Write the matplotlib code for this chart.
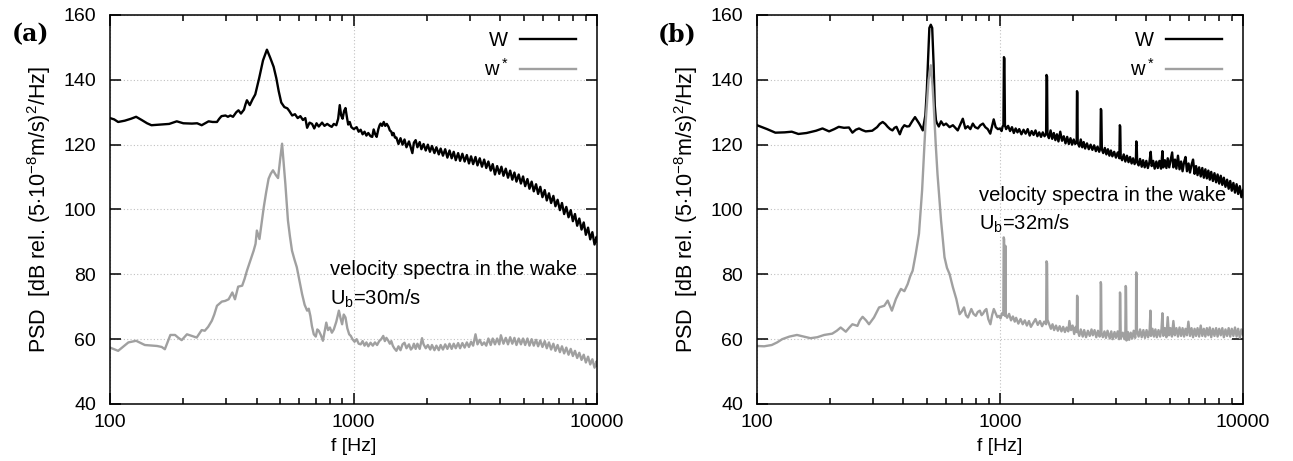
import numpy as np
import matplotlib
matplotlib.use("Agg")
import matplotlib.pyplot as plt
from matplotlib.ticker import NullFormatter, FixedLocator

plt.rcParams['font.family'] = ['Liberation Sans', 'DejaVu Sans']
plt.rcParams['mathtext.fontset'] = 'custom'
plt.rcParams['mathtext.rm'] = 'Liberation Sans'
plt.rcParams['mathtext.it'] = 'Liberation Sans'

# ---------------- data: (frequency [Hz], PSD [dB]) ----------------
# panel (a), U_b = 30 m/s, W
A_W = [
    (100,128.2),(104,127.8),(108,127.0),(115,127.4),(122,128.0),(128,128.6),(135,127.6),(142,126.6),
    (148,126.0),(160,126.2),(175,126.4),(188,127.2),(200,126.6),(217,126.5),(228,126.6),(238,126.0),
    (246,126.6),(254,127.2),(264,127.0),(275,127.0),(281,128.0),(287,128.8),(298,129.0),(305,128.6),
    (312,129.0),(320,128.6),(330,130.0),(337,130.6),(345,129.6),(355,130.8),(360,132.4),(365,133.7),
    (375,132.2),(385,134.0),(395,135.5),(410,140.6),(425,146.0),(441,149.3),(455,146.8),(470,144.0),
    (482,140.5),(493,136.5),(505,133.0),(520,131.6),(535,131.2),(545,130.4),(560,129.0),(575,129.4),
    (590,128.2),(605,128.8),(620,127.6),(634,128.2),(645,125.2),(660,126.8),(676,126.4),(690,125.0),
    (705,126.6),(720,125.6),(743,126.8),(760,125.8),(780,126.4),(800,125.8),(814,125.5),(830,126.4),
    (850,126.0),(865,128.0),(878,132.2),(890,129.0),(902,128.0),(915,130.4),(927,131.3),(940,128.4),
    (951,126.2),(965,127.0),(980,125.4),(1003,124.8),(1030,125.4),(1050,124.0),(1070,124.6),(1090,123.2),
    (1110,124.0),(1130,122.8),(1150,123.6),(1175,122.6),(1194,122.4),(1210,124.7),(1228,123.2),(1245,122.4),
    (1265,124.8),(1280,126.0),(1292,126.5),(1310,125.8),(1331,127.0),(1350,125.8),(1370,126.4),(1393,125.5),
    (1410,124.4),(1430,124.0),(1443,122.9),(1460,123.6),(1480,122.2),
    (1500,122.2),(1530,120.2),(1560,122.0),(1590,120.0),(1620,121.6),(1650,119.2),(1690,121.0),(1720,119.0),
    (1745,117.4),(1770,120.6),(1800,121.4),(1830,119.2),(1870,120.8),(1900,118.6),(1940,120.2),(1980,118.2),
    (2020,120.0),(2060,117.8),(2100,119.6),(2150,117.4),(2190,119.2),(2240,117.0),(2280,118.8),(2330,116.6),
    (2380,118.6),(2430,116.0),(2480,118.2),(2530,115.8),(2580,117.8),(2630,115.2),(2690,117.4),(2740,115.0),
    (2800,117.2),(2860,114.8),(2920,116.8),(2980,114.2),(3040,116.4),(3100,114.0),(3170,116.2),(3230,113.6),
    (3300,115.8),(3370,113.2),(3440,115.4),(3510,112.8),(3580,114.8),(3660,112.0),(3730,114.0),(3810,110.8),
    (3890,113.4),(3970,111.0),(4050,113.2),(4130,110.4),(4220,112.6),(4310,109.8),(4400,112.0),(4490,109.2),
    (4580,111.4),(4670,108.6),(4770,110.8),(4870,108.0),(4970,110.2),(5070,107.2),(5180,109.4),(5280,106.4),
    (5390,108.6),(5500,105.6),(5620,107.8),(5730,104.8),(5850,107.0),(5970,103.8),(6100,106.0),(6220,102.8),
    (6350,105.0),(6480,102.0),(6620,104.2),(6750,101.0),(6890,103.0),(7040,99.8),(7180,102.0),(7330,98.6),
    (7480,100.8),(7640,97.6),(7800,99.8),(7960,96.4),(8120,98.6),(8290,95.0),(8460,97.2),(8640,93.8),
    (8820,96.0),(9000,92.2),(9190,94.4),(9380,90.8),(9570,93.0),(9770,89.2),(9970,91.6),(10000,90.2),
]

# panel (a), w*
A_WS = [
    (100,57.4),(104,56.9),(108,56.4),(113,57.6),(119,59.0),(128,59.5),(139,58.2),(150,58.0),(156,57.9),
    (163,57.6),(168,56.9),(177,61.3),(185,61.3),(191,60.4),(197,59.7),(207,61.5),(217,61.0),(227,60.5),
    (238,62.8),(245,62.6),(253,63.8),(262,65.7),(268,67.6),(275,70.3),(288,71.6),(297,71.8),(307,72.3),
    (318,74.4),(326,72.3),(336,76.2),(349,76.5),(357,78.6),(365,81.1),(377,84.2),(389,87.3),(396,89.4),
    (401,93.5),(411,90.9),(420,96.2),(428,100.7),(438,105.4),(448,109.5),(457,111.0),(467,112.1),(480,110.6),
    (490,109.7),(500,115.6),(509,120.3),(517,114.0),(525,107.9),(538,96.6),(548,91.8),(559,87.3),(572,84.6),
    (585,82.2),(600,78.0),(615,73.9),(630,70.6),(645,68.8),(655,69.4),(665,67.2),(675,64.0),(687,61.5),
    (700,60.8),(710,63.0),(720,62.6),(735,61.2),(749,59.5),(762,62.6),(773,65.1),(786,62.8),(800,63.6),
    (815,62.0),(830,63.0),(850,65.4),(871,68.8),(885,66.4),(898,64.6),(912,67.6),(927,66.7),(943,63.4),
    (960,61.5),(975,61.0),(990,60.0),(1010,59.2),(1030,60.0),(1050,58.6),(1070,58.4),(1090,59.4),(1110,58.0),
    (1130,59.0),(1150,57.8),(1175,58.9),(1200,58.0),(1225,59.0),(1250,58.2),(1275,59.4),(1300,60.0),
    (1325,61.0),(1345,59.4),(1365,60.4),(1390,59.5),(1410,58.6),(1430,59.4),(1450,58.0),(1470,57.2),
    (1500,56.4),(1530,57.8),(1560,56.6),(1590,58.4),(1620,58.9),(1650,57.2),(1690,58.4),(1720,56.8),
    (1745,57.3),(1770,58.6),(1800,57.0),(1830,58.6),(1870,57.0),(1912,60.3),(1940,58.4),(1980,57.2),
    (2020,58.2),(2067,56.8),(2100,58.2),(2150,56.6),(2190,58.0),(2240,56.6),(2280,58.2),(2330,56.8),
    (2380,58.4),(2430,57.0),(2480,58.6),(2530,57.0),(2580,58.6),(2630,57.2),(2690,58.8),(2740,57.2),
    (2800,58.8),(2860,57.4),(2920,59.0),(2980,57.6),(3040,59.2),(3100,58.0),(3170,61.5),(3230,58.4),
    (3300,59.8),(3370,58.2),(3440,59.0),(3510,58.0),(3580,60.2),(3660,58.2),(3730,60.2),(3810,58.4),
    (3890,60.2),(3970,58.4),(4030,61.2),(4130,58.6),(4220,60.4),(4310,58.4),(4400,60.6),(4490,58.6),
    (4580,60.4),(4670,58.2),(4770,60.2),(4870,58.4),(4970,60.2),(5070,58.2),(5180,60.2),(5280,58.0),
    (5390,60.0),(5500,58.0),(5620,59.8),(5730,57.8),(5850,59.6),(5970,57.6),(6100,59.4),(6220,57.2),
    (6350,59.0),(6480,56.8),(6620,58.6),(6750,56.4),(6890,58.2),(7040,56.0),(7180,57.8),(7330,55.6),
    (7480,57.4),(7640,55.2),(7800,57.0),(7960,54.8),(8120,56.4),(8290,54.2),(8460,55.8),(8640,53.6),
    (8820,55.2),(9000,52.8),(9190,54.6),(9380,52.2),(9570,53.8),(9770,51.2),(9970,53.2),(10000,51.8),
]

# panel (b), U_b = 32 m/s, W
B_W = [
    (100,126.0),(105,125.4),(110,124.8),(119,123.7),(130,123.8),(139,124.0),(148,123.3),(160,123.6),
    (175,124.3),(186,125.0),(198,124.1),(208,124.8),(217,125.5),(228,125.2),(239,125.3),(247,123.7),
    (255,124.6),(263,125.0),(271,124.5),(280,124.1),(298,124.3),(312,125.4),(320,126.4),(329,127.0),
    (337,126.4),(345,125.5),(353,124.8),(361,124.4),(368,125.2),(375,125.5),(387,123.2),(395,125.0),
    (404,126.0),(414,125.6),(423,125.7),(435,127.2),(447,128.5),(457,127.4),(465,126.5),(473,125.5),
    (481,124.4),(493,129.0),(500,137.0),(506,147.0),(512,156.0),(519,157.0),(526,156.0),(533,145.0),
    (539,132.0),(545,127.6),(549,126.8),(560,125.6),(572,127.2),(586,126.0),(600,126.5),(620,125.4),
    (640,126.0),(655,125.2),(670,124.4),(686,126.2),(703,128.0),(720,125.0),(737,125.7),(755,124.8),
    (773,126.5),(790,125.4),(811,125.0),(830,126.0),(851,126.5),(870,125.4),(890,124.8),(912,123.4),
    (927,125.6),(942,127.8),(960,125.4),(980,124.8),
    (1000,125.0),(1015,124.2),(1025,125.6),(1033,126.0),(1038,147.0),(1043,146.5),(1048,126.0),(1060,124.8),
    (1080,125.8),(1100,124.2),(1120,125.4),(1140,123.6),(1160,125.0),(1180,123.8),(1200,124.8),(1225,123.2),
    (1250,124.6),(1275,123.4),(1300,124.8),(1325,122.8),(1350,124.2),(1375,123.0),(1400,124.4),(1425,122.6),
    (1450,123.8),(1475,122.4),(1500,123.8),(1525,122.6),(1548,123.4),(1554,141.5),(1562,141.0),(1568,123.2),
    (1590,122.0),(1615,124.4),(1640,121.8),(1665,123.6),(1690,121.4),(1715,123.2),(1740,121.0),(1770,124.0),
    (1800,121.2),(1830,122.6),(1860,120.4),(1890,122.4),(1920,120.2),(1950,122.0),(1980,120.0),(2010,121.6),
    (2040,120.2),(2068,121.0),(2074,136.5),(2082,136.0),(2088,120.6),(2120,119.4),(2150,121.6),(2180,119.2),
    (2210,120.8),(2240,118.8),(2280,120.4),(2320,118.6),(2360,120.0),(2400,118.4),(2440,119.8),(2480,118.0),
    (2520,119.4),(2560,117.8),(2590,119.0),(2600,131.0),(2612,130.6),(2625,118.6),(2660,117.4),(2700,119.0),
    (2740,117.0),(2780,118.6),(2820,116.6),(2860,118.2),(2900,116.4),(2950,117.8),(3000,116.0),(3050,117.6),
    (3100,115.8),(3112,126.0),(3125,125.6),(3138,116.4),(3180,115.2),(3230,117.0),(3280,114.8),(3330,116.6),
    (3380,114.6),(3430,116.2),(3480,114.2),(3530,115.8),(3580,114.0),(3625,115.4),(3638,121.0),(3652,120.6),
    (3668,114.6),(3720,113.6),(3770,115.6),(3830,113.2),(3880,115.2),(3940,113.0),(4000,115.0),(4060,112.8),
    (4120,114.6),(4170,117.8),(4210,113.4),(4270,115.0),(4330,112.6),(4400,114.8),(4460,112.8),(4530,115.0),
    (4600,112.6),(4660,118.0),(4700,113.0),(4770,115.2),(4840,112.8),(4900,115.8),(4970,113.0),(5040,115.4),
    (5110,117.6),(5170,113.0),(5250,115.4),(5320,112.6),(5400,116.6),(5480,112.4),(5560,114.8),(5640,111.8),
    (5720,114.6),(5800,116.2),(5880,111.8),(5970,114.2),(6050,111.4),(6140,113.8),(6230,115.4),(6320,111.0),
    (6410,113.4),(6500,110.6),(6600,113.0),(6700,110.2),(6800,112.8),(6900,109.8),(7000,112.4),(7100,109.6),
    (7200,112.0),(7300,109.2),(7400,111.6),(7520,108.8),(7630,111.2),(7750,108.4),(7860,110.8),(7980,108.0),
    (8100,110.4),(8220,107.6),(8340,109.8),(8470,107.0),(8600,109.2),(8730,106.4),(8860,108.8),(8990,105.8),
    (9130,108.2),(9270,105.2),(9410,107.8),(9550,104.8),(9700,107.2),(9850,103.8),(10000,106.0),
]

# panel (b), w*
B_WS = [
    (100,57.9),(107,57.8),(115,58.2),(121,59.0),(127,60.0),(136,60.8),(146,61.3),(156,60.8),(166,60.3),
    (177,60.6),(189,61.3),(204,61.7),(213,62.6),(221,63.6),(232,62.3),(240,63.6),(247,64.6),(259,64.1),
    (265,65.8),(272,66.9),(281,65.8),(289,64.6),(303,66.7),(318,69.8),(334,70.3),(345,71.9),(359,68.8),
    (373,72.4),(383,74.2),(391,75.5),(404,74.8),(417,77.0),(427,79.4),(437,81.1),(450,86.3),(464,92.5),
    (478,105.9),(493,125.5),(508,139.9),(519,144.5),(528,138.0),(534,131.6),(544,120.0),(553,111.0),
    (572,96.6),(591,85.3),(605,82.0),(620,80.1),(640,76.0),(661,72.4),(682,67.7),(697,68.6),(711,69.8),
    (724,67.4),(738,66.7),(750,68.0),(762,69.3),(778,67.8),(795,67.2),(810,68.4),(826,68.8),(840,67.4),
    (852,67.9),(865,68.8),(879,69.3),(895,66.2),(913,64.6),(928,67.4),(943,69.3),(960,68.0),(975,66.8),
    (991,67.2),(1005,66.4),(1020,68.0),(1032,67.6),(1036,91.4),(1040,90.8),(1044,68.0),(1048,67.2),
    (1052,88.8),(1056,67.4),(1070,66.6),(1090,67.8),(1110,65.8),(1130,67.0),(1150,65.4),(1165,66.6),
    (1190,64.8),(1215,66.2),(1240,64.6),(1265,65.8),(1290,64.2),(1316,65.6),(1340,63.8),(1370,65.0),
    (1400,66.2),(1430,64.4),(1460,65.6),(1490,64.0),(1520,65.4),(1548,64.6),(1554,84.0),(1562,83.4),
    (1568,66.0),(1590,64.8),(1620,63.2),(1645,64.6),(1670,62.8),(1700,64.2),(1730,62.6),(1760,64.0),
    (1790,62.4),(1820,63.8),(1850,62.2),(1880,63.6),(1910,62.4),(1930,65.6),(1960,62.8),(1990,64.2),
    (2020,61.6),(2050,63.8),(2070,62.2),(2076,73.4),(2084,73.0),(2090,62.6),(2120,61.0),(2150,63.0),
    (2190,60.8),(2220,62.8),(2260,60.6),(2300,62.6),(2340,61.0),(2380,63.0),(2410,61.2),(2450,62.8),
    (2490,60.6),(2530,62.6),(2570,60.8),(2592,62.4),(2598,77.6),(2606,77.0),(2615,62.0),(2650,60.6),
    (2690,62.4),(2730,60.4),(2770,62.6),(2830,60.2),(2870,62.4),(2910,60.0),(2960,62.2),(3000,60.4),
    (3050,62.4),(3090,60.0),(3110,61.8),(3116,74.4),(3124,74.0),(3140,60.2),(3200,62.0),(3250,60.0),
    (3280,62.4),(3290,76.4),(3300,76.0),(3315,59.6),(3360,62.2),(3400,59.8),(3450,62.0),(3500,60.2),
    (3550,62.6),(3600,60.4),(3625,62.8),(3634,80.6),(3645,80.2),(3660,62.6),(3720,60.8),(3770,63.0),
    (3830,60.6),(3890,62.8),(3950,60.4),(4010,62.8),(4070,60.6),(4130,63.0),(4160,68.8),(4180,61.0),
    (4240,63.2),(4300,60.8),(4360,63.0),(4420,60.6),(4490,62.8),(4560,60.8),(4620,63.2),(4660,68.0),
    (4700,61.0),(4770,63.4),(4840,60.6),(4900,66.8),(4960,61.2),(5030,63.4),(5100,60.8),(5170,65.6),
    (5240,61.2),(5320,63.4),(5400,60.8),(5480,63.6),(5560,61.0),(5640,63.4),(5720,60.8),(5800,63.2),
    (5880,61.2),(5960,65.4),(6050,61.0),(6140,63.4),(6230,60.6),(6320,63.2),(6410,61.0),(6500,63.4),
    (6600,60.8),(6700,64.2),(6800,61.0),(6900,63.2),(7000,60.8),(7100,63.4),(7200,61.2),(7300,63.6),
    (7400,60.6),(7520,63.2),(7630,61.0),(7750,63.4),(7860,60.8),(7980,63.2),(8100,61.2),(8220,63.4),
    (8340,60.6),(8470,63.0),(8600,61.0),(8730,63.4),(8860,60.8),(8990,63.2),(9130,61.0),(9270,63.6),
    (9410,60.8),(9550,63.2),(9700,60.4),(9850,63.0),(10000,61.4),
]

SERIES_LABELS = ["W", "w$^*$"]
PANEL_TAGS = ["(a)", "(b)"]
NOTE_LINE1 = "velocity spectra in the wake"
NOTE_LINE2 = ["U$_\\mathrm{b}$=30m/s", "U$_\\mathrm{b}$=32m/s"]
Y_TICKS = [40, 60, 80, 100, 120, 140, 160]
X_TICKS = [100, 1000, 10000]
X_TICK_LABELS = ["100", "1000", "10000"]

# ---------------- figure ----------------
W_PX, H_PX = 1293, 461
fig = plt.figure(figsize=(W_PX / 100, H_PX / 100), dpi=100)

def px_axes(l, r, t, b):
    return fig.add_axes([l / W_PX, 1 - b / H_PX, (r - l) / W_PX, (b - t) / H_PX])

axes = [px_axes(110, 597, 15, 404), px_axes(757, 1243, 15, 404)]
panels = [(A_W, A_WS), (B_W, B_WS)]
note_x = [0.452, 0.457]
note_y = [(0.347, 0.270), (0.535, 0.462)]
tag_pos = [(31, 34), (677, 34)]
colors = ["#000000", "#a0a0a0"]

for i, ax in enumerate(axes):
    for data, col, lab in zip(panels[i], colors, SERIES_LABELS):
        f = np.array([p[0] for p in data], dtype=float)
        v = np.array([p[1] for p in data], dtype=float)
        ax.plot(f, v, color=col, lw=1.7, label=lab)
    ax.set_xscale('log')
    ax.set_xlim(100, 10000)
    ax.set_ylim(40, 160)
    ax.set_yticks(Y_TICKS)
    ax.set_xticks(X_TICKS)
    ax.set_xticklabels(X_TICK_LABELS)
    ax.xaxis.set_minor_locator(FixedLocator([m * d for d in (100, 1000) for m in range(2, 10)]))
    ax.xaxis.set_minor_formatter(NullFormatter())
    ax.tick_params(which='both', direction='in', top=True, right=True, labelsize=14, width=1.1)
    ax.tick_params(axis='y', which='major', length=8, pad=10)
    ax.tick_params(axis='x', which='major', length=8, pad=7)
    ax.tick_params(which='minor', length=4)
    ax.grid(True, which='major', linestyle=(0, (1, 2)), color='#c0c0c0', lw=0.8)
    for s in ax.spines.values():
        s.set_linewidth(1.1)
    ax.set_xlabel("f [Hz]", fontsize=14, labelpad=5)
    ax.set_ylabel("PSD  [dB rel. (5$\\cdot$10$^{-8}$m/s)$^2$/Hz]", fontsize=15.5)
    ax.yaxis.set_label_coords(-0.117, 0.5)
    ax.legend(loc='upper right', frameon=False, markerfirst=False, fontsize=14.5,
              handlelength=2.8, handletextpad=0.6, labelspacing=0.4,
              bbox_to_anchor=(0.995, 1.005))
    ax.text(note_x[i], note_y[i][0], NOTE_LINE1, transform=ax.transAxes,
            fontsize=14.5, va='center', ha='left')
    ax.text(note_x[i], note_y[i][1], NOTE_LINE2[i], transform=ax.transAxes,
            fontsize=14.5, va='center', ha='left')
    fig.text(tag_pos[i][0] / W_PX, 1 - tag_pos[i][1] / H_PX, PANEL_TAGS[i],
             fontsize=17, fontweight='bold', family='DejaVu Serif', ha='center', va='center')

fig.savefig("out.png", dpi=100)
